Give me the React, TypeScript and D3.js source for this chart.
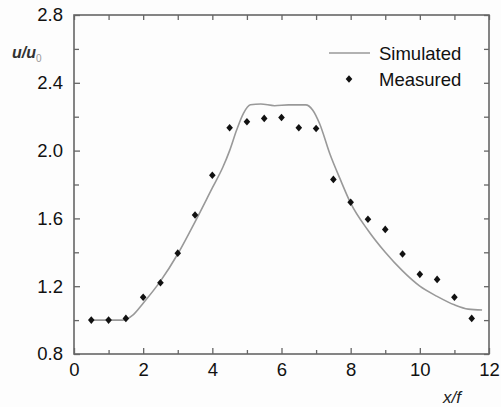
import React, { useEffect, useRef } from 'react';
import * as d3 from 'd3';

// measured points (x/f, u/u0)
const measuredX = [0.5, 1, 1.5, 2, 2.5, 3, 3.5, 4, 4.5, 5, 5.5, 6, 6.5, 7, 7.5, 8, 8.5, 9, 9.5, 10, 10.5, 11, 11.5];
const measuredY = [1.0, 1.0, 1.01, 1.135, 1.22, 1.395, 1.62, 1.855, 2.135, 2.17, 2.19, 2.195, 2.135, 2.13, 1.83, 1.695, 1.595, 1.535, 1.39, 1.27, 1.24, 1.135, 1.01];

// simulated curve
const simX = [0.5, 1.0, 1.4, 1.7, 2.0, 2.5, 3.0, 3.5, 4.0, 4.3, 4.5, 4.7, 4.9, 5.1, 5.4, 5.8, 6.2, 6.7, 6.9, 7.1, 7.4, 7.7, 8.0, 8.5, 9.0, 9.5, 10.0, 10.5, 11.0, 11.4, 11.8];
const simY = [1.0, 1.0, 1.0, 1.03, 1.10, 1.23, 1.39, 1.58, 1.78, 1.90, 2.0, 2.12, 2.22, 2.27, 2.275, 2.265, 2.27, 2.27, 2.24, 2.16, 1.98, 1.83, 1.69, 1.53, 1.40, 1.29, 1.20, 1.14, 1.09, 1.065, 1.06];

const xTicks = [0, 2, 4, 6, 8, 10, 12];
const xMinor = [1, 3, 5, 7, 9, 11];
const yTicks = [0.8, 1.2, 1.6, 2.0, 2.4, 2.8];
const yMinor = [1.0, 1.4, 1.8, 2.2, 2.6];

const App = () => {
  const ref = useRef<SVGSVGElement>(null);

  useEffect(() => {
    const svg = d3.select(ref.current);
    svg.selectAll('*').remove();

    const left = 74, right = 489, top = 15, bottom = 354;
    const axisColor = '#666';
    const font = 'Arial, "Liberation Sans", sans-serif';

    const x = d3.scaleLinear().domain([0, 12]).range([left, right]);
    const y = d3.scaleLinear().domain([0.8, 2.8]).range([bottom, top]);

    svg.append('rect').attr('width', 501).attr('height', 407).attr('fill', '#fdfdfd');

    // frame
    svg.append('rect')
      .attr('x', left).attr('y', top)
      .attr('width', right - left).attr('height', bottom - top)
      .attr('fill', 'none').attr('stroke', axisColor).attr('stroke-width', 1.6);

    const styleAxis = (g: any) => {
      g.select('.domain').remove();
      g.selectAll('line').attr('stroke', axisColor).attr('stroke-width', 1.3);
      g.selectAll('text').attr('fill', '#111').style('font-family', font).style('font-size', '18.5px');
    };

    // bottom
    svg.append('g')
      .attr('transform', `translate(0,${bottom})`)
      .call(d3.axisBottom(x).tickValues(xTicks).tickFormat(d3.format('d')).tickSizeInner(-6).tickSizeOuter(0).tickPadding(9))
      .call(styleAxis);
    svg.append('g')
      .attr('transform', `translate(0,${bottom})`)
      .call(d3.axisBottom(x).tickValues(xMinor).tickFormat(() => '').tickSizeInner(-4).tickSizeOuter(0))
      .call(styleAxis);
    // top
    svg.append('g')
      .attr('transform', `translate(0,${top})`)
      .call(d3.axisTop(x).tickValues([...xTicks, ...xMinor]).tickFormat(() => '').tickSizeInner(-5).tickSizeOuter(0))
      .call(styleAxis);

    // left
    svg.append('g')
      .attr('transform', `translate(${left},0)`)
      .call(d3.axisLeft(y).tickValues(yTicks).tickFormat(d3.format('.1f')).tickSizeInner(-6).tickSizeOuter(0).tickPadding(11))
      .call(styleAxis);
    svg.append('g')
      .attr('transform', `translate(${left},0)`)
      .call(d3.axisLeft(y).tickValues(yMinor).tickFormat(() => '').tickSizeInner(-5).tickSizeOuter(0))
      .call(styleAxis);
    // right
    svg.append('g')
      .attr('transform', `translate(${right},0)`)
      .call(d3.axisRight(y).tickValues([...yTicks, ...yMinor]).tickFormat(() => '').tickSizeInner(-5).tickSizeOuter(0))
      .call(styleAxis);

    // simulated curve
    const simData = simX.map((v, i) => [v, simY[i]] as [number, number]);
    const line = d3.line<[number, number]>()
      .x(d => x(d[0]))
      .y(d => y(d[1]))
      .curve(d3.curveMonotoneX);
    svg.append('path')
      .datum(simData)
      .attr('d', line)
      .attr('fill', 'none')
      .attr('stroke', '#999')
      .attr('stroke-width', 1.6);

    // measured points
    const diamond = 'M0,-3.8L3.3,0L0,3.8L-3.3,0Z';
    svg.selectAll('.pt')
      .data(measuredX.map((v, i) => [v, measuredY[i]]))
      .enter()
      .append('path')
      .attr('class', 'pt')
      .attr('d', diamond)
      .attr('transform', d => `translate(${x(d[0])},${y(d[1])})`)
      .attr('fill', '#111');

    // legend
    svg.append('line')
      .attr('x1', 329).attr('x2', 370).attr('y1', 53).attr('y2', 53)
      .attr('stroke', '#999').attr('stroke-width', 1.6);
    svg.append('text')
      .attr('x', 379).attr('y', 60)
      .text('Simulated')
      .style('font-family', font).style('font-size', '18.5px').attr('fill', '#111');
    svg.append('path')
      .attr('d', diamond)
      .attr('transform', 'translate(349,79)')
      .attr('fill', '#111');
    svg.append('text')
      .attr('x', 379).attr('y', 86)
      .text('Measured')
      .style('font-family', font).style('font-size', '18.5px').attr('fill', '#111');

    // axis titles
    const yt = svg.append('text')
      .attr('x', 12).attr('y', 58)
      .style('font-family', font).style('font-size', '16px')
      .style('font-style', 'italic').style('font-weight', 'bold').attr('fill', '#333');
    yt.append('tspan').text('u/u');
    yt.append('tspan').text('0').attr('dy', 4).style('font-size', '10px')
      .style('font-style', 'normal').style('font-weight', 'normal').attr('fill', '#999');

    svg.append('text')
      .attr('x', 443).attr('y', 403)
      .text('x/f')
      .style('font-family', font).style('font-size', '17px')
      .style('font-style', 'italic').attr('fill', '#222');
  }, []);

  return (
    <svg
      ref={ref}
      width={501}
      height={407}
      style={{ position: 'absolute', left: 0, top: 0, display: 'block' }}
    />
  );
};

export default App;
